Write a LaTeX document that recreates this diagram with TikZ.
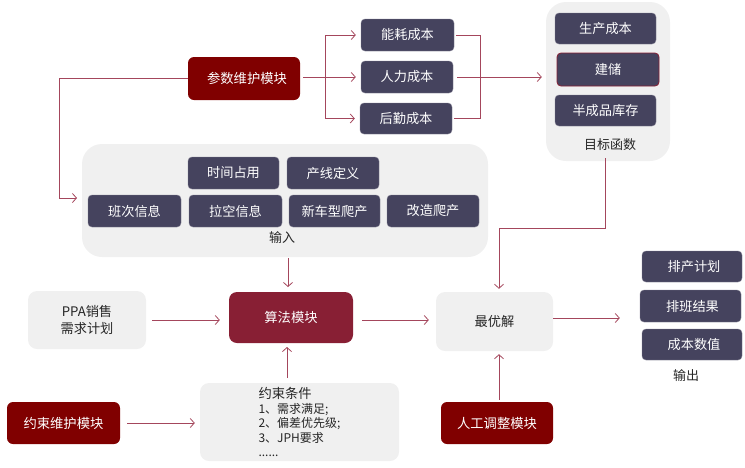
\documentclass[tikz,border=0pt]{standalone}
\usepackage{fontspec}
\setmainfont{Noto Sans CJK SC}
\usetikzlibrary{arrows.meta}
\definecolor{slate}{HTML}{45435E}
\definecolor{dred}{HTML}{800000}
\definecolor{crim}{HTML}{881F34}
\definecolor{lgray}{HTML}{F0F0F0}
\definecolor{arrc}{HTML}{A4465C}
\definecolor{txt}{HTML}{262626}
\begin{document}
\begin{tikzpicture}[x=1pt,y=-1pt,
  sz/.style 2 args={minimum width=#1pt, minimum height=#2pt},
  darkbox/.style={fill=slate, draw=slate!70!white, line width=0.4pt, text=white, rounded corners=4pt, inner sep=0pt, font=\fontsize{13.2}{15}\selectfont},
  redbox/.style={fill=dred, text=white, rounded corners=6pt, inner sep=0pt, font=\fontsize{13.3}{15}\selectfont},
  algbox/.style={fill=crim, text=white, rounded corners=8pt, inner sep=0pt, font=\fontsize{13.3}{15}\selectfont},
  lightbox/.style={fill=lgray, text=txt, rounded corners=9pt, inner sep=0pt, font=\fontsize{13.2}{17}\selectfont, align=center},
  container/.style={fill=lgray, rounded corners=20pt, inner sep=0pt},
  lbl/.style={text=txt, inner sep=0pt, font=\fontsize{13}{15}\selectfont},
  arr/.style={draw=arrc, line width=0.8pt, -{Straight Barb[length=4pt,width=9pt]}},
  ln/.style={draw=arrc, line width=0.8pt}
]
\useasboundingbox (0,0) rectangle (745,467);

% containers
\node[container, sz={406}{113}] (inp) at (285,200.5) {};
\node[container, sz={124}{159}] (obj) at (608,81.5) {};

% parameter module
\node[redbox, sz={112}{43}] (param) at (244,78.5) {\hspace{6pt}参数维护模块};
\node[darkbox, sz={93}{32}] (nh) at (407.5,35) {能耗成本};
\node[darkbox, sz={92}{32}] (rl) at (407,77) {人力成本};
\node[darkbox, sz={92}{31}] (hq) at (406,118.5) {后勤成本};

% input items
\node[darkbox, sz={91}{32}] (sj) at (233.5,173) {时间占用};
\node[darkbox, sz={92}{32}] (cx) at (333,173) {产线定义};
\node[darkbox, sz={93}{32}] (bc) at (134.5,211) {班次信息};
\node[darkbox, sz={93}{32}] (lk) at (235.5,211) {拉空信息};
\node[darkbox, sz={91}{32}] (xc) at (334.5,211) {新车型爬产};
\node[darkbox, sz={92}{32}] (gz) at (433,211) {改造爬产};
\node[lbl] (inl) at (282,238) {输入};

% objective items
\node[darkbox, sz={101}{31}] (sc) at (605.5,28.5) {生产成本};
\node[darkbox, draw=crim, line width=0.8pt, sz={102}{33}] (jc) at (608,69.5) {建储};
\node[darkbox, sz={101}{31}] (bcp) at (605.5,110.5) {半成品库存};
\node[lbl] (objl) at (610,145) {目标函数};

% middle row
\node[lightbox, sz={118}{58}] (ppa) at (87,320) {PPA销售\\需求计划};
\node[algbox, sz={124}{51}] (alg) at (291,317.5) {算法模块};
\node[lightbox, sz={117}{59}] (opt) at (494.5,321.5) {最优解};

% outputs
\node[darkbox, sz={100}{31}] (pc) at (692,266.5) {\hspace{4pt}排产计划};
\node[darkbox, sz={101}{32}] (pb) at (690.5,306) {\hspace{4pt}排班结果};
\node[darkbox, sz={100}{31}] (cb) at (692,344.5) {\hspace{4pt}成本数值};
\node[lbl] (outl) at (686,376) {输出};

% bottom row
\node[redbox, sz={113}{42}] (ys) at (63.5,423) {约束维护模块};
\node[lightbox, sz={199}{78}, align=left, font=\fontsize{12}{14.5}\selectfont] (yc) at (299.5,422)
  {{\fontsize{13.3}{16}\selectfont 约束条件}\\1、需求满足;\\2、偏差优先级;\\3、JPH要求\\......};
\node[redbox, sz={112}{42}] (rg) at (497,423) {人工调整模块};

% connectors
\coordinate (inpin) at (82,198);
\draw[arr, shorten >=5pt] (param.west) -- (59,78.5) |- (inpin);

\coordinate (b1) at (325,78);
\draw[arr, shorten <=3pt, shorten >=5pt] (param.east |- rl.west) -- (rl.west);
\draw[arr, shorten >=5pt] (b1) |- (nh.west);
\draw[arr, shorten >=5pt] (b1) |- (hq.west);

\coordinate (b2) at (480,78);
\draw[ln, shorten <=2pt] (nh.east) -| (b2);
\draw[ln, shorten <=2pt] (hq.east) -| (b2);
\draw[arr, shorten <=4pt, shorten >=4pt] (rl.east) -- (obj.west |- rl.east);

\coordinate (b3) at (605,228);
\coordinate (b4) at (499,228);
\draw[arr, shorten >=3pt] ([xshift=-3pt,yshift=3pt]obj.south) -- (b3) -- (b4) -- (b4 |- opt.north);

\draw[arr, shorten <=1pt, shorten >=5pt] (288,257) -- (288,292);

\draw[arr, shorten <=6pt, shorten >=9pt] (ppa.east |- 0,320) -- (alg.west |- 0,320);
\draw[arr, shorten <=9pt, shorten >=7pt] (alg.east |- 0,320) -- (opt.west |- 0,320);
\draw[arr, shorten >=20pt] (opt.east |- 0,318) -- (pb.west |- 0,318);

\draw[arr, shorten <=5pt, shorten >=4pt] (287,383) -- (287,343);
\draw[arr, shorten <=7pt, shorten >=5pt] (ys.east) -- (yc.west |- ys.east);
\draw[arr, shorten <=2pt, shorten >=3pt] (rg.north -| 499,0) -- (opt.south -| 499,0);
\end{tikzpicture}
\end{document}
